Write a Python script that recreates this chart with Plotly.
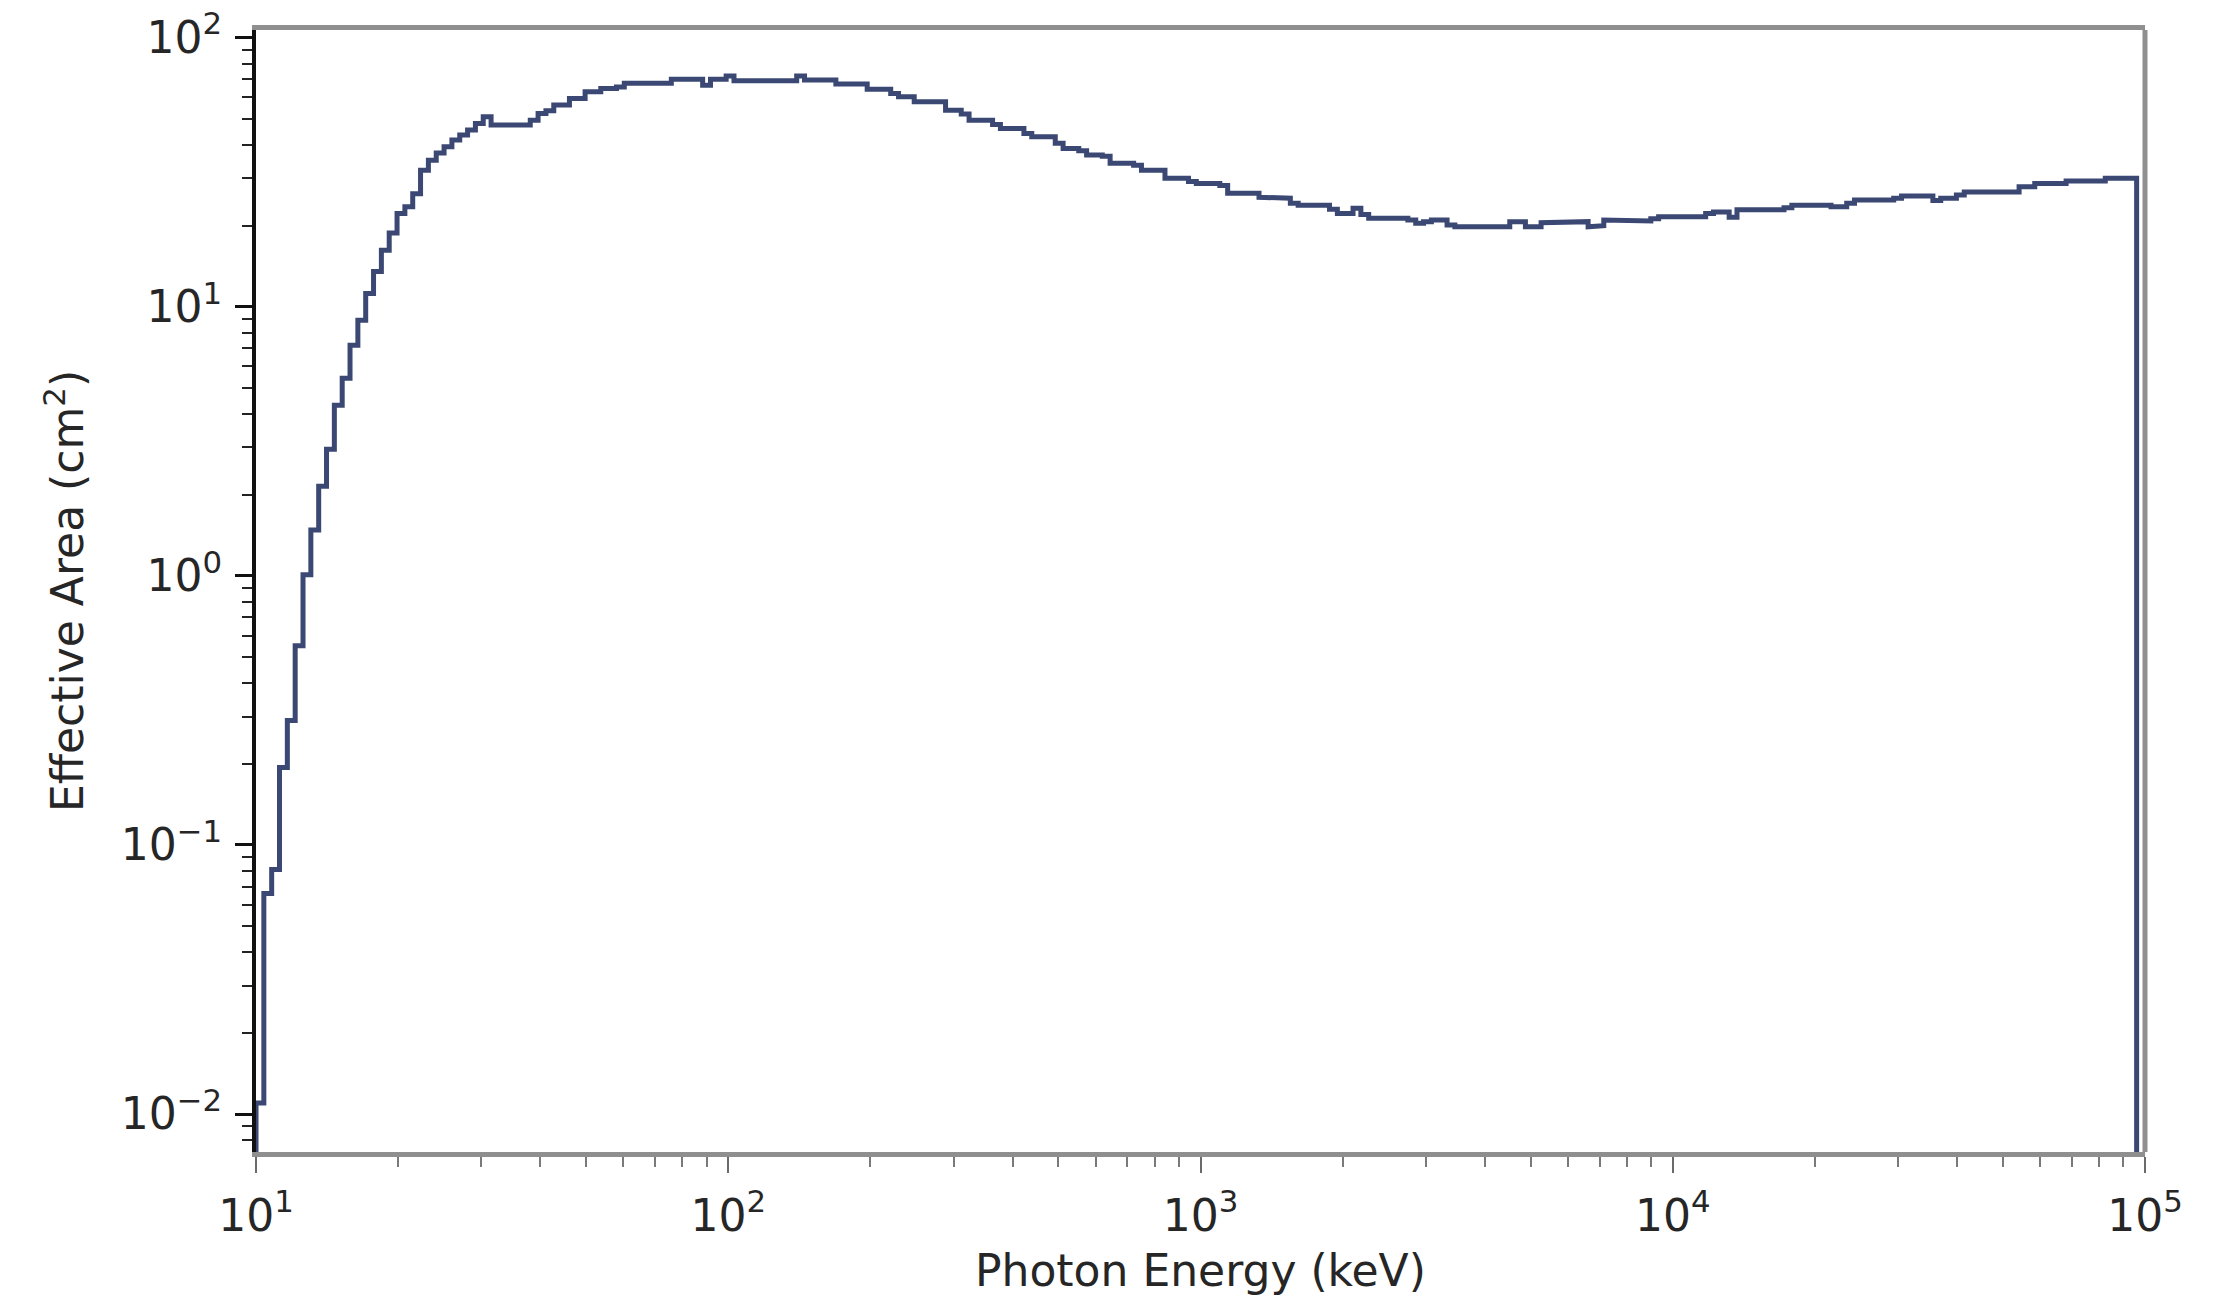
import numpy as np
import plotly.graph_objects as go

# Histogram bin range (keV) and number of log-spaced bins
E_MIN = 10.0
E_MAX = 96000.0
N_BINS = 240

# Effective area per bin (cm^2)
area = [
    0.011, 0.066, 0.081, 0.194, 0.29, 0.55, 1.01, 1.48, 2.15, 2.95,
    4.3, 5.42, 7.19, 8.9, 11.2, 13.5, 16.2, 18.8, 22.2, 23.5,
    26.3, 32.1, 35.0, 37.2, 39.3, 41.6, 43.4, 45.3, 47.9, 50.8,
    47.3, 47.3, 47.3, 47.3, 47.3, 49.3, 52.2, 53.5, 56.1, 56.1,
    59.4, 59.4, 62.9, 62.9, 64.7, 64.7, 65.5, 67.6, 67.6, 67.6,
    67.6, 67.6, 67.6, 70.0, 70.0, 70.0, 70.0, 66.5, 70.0, 70.0,
    72.0, 69.1, 69.1, 69.1, 69.1, 69.1, 69.1, 69.1, 69.1, 71.9,
    69.5, 69.5, 69.5, 69.5, 67.2, 67.2, 67.2, 67.2, 64.2, 64.2,
    64.2, 62.0, 60.3, 60.3, 57.7, 57.7, 57.7, 57.7, 53.7, 53.7,
    52.0, 49.3, 49.3, 49.3, 47.5, 45.9, 45.9, 45.9, 44.0, 42.8,
    42.8, 42.8, 40.5, 38.7, 38.7, 38.0, 36.6, 36.6, 36.2, 34.1,
    34.1, 34.1, 33.5, 32.1, 32.1, 32.1, 30.0, 30.0, 30.0, 29.2,
    28.7, 28.7, 28.7, 28.2, 26.4, 26.4, 26.4, 26.4, 25.5, 25.3,
    25.3, 25.3, 24.2, 23.8, 23.8, 23.8, 23.8, 23.0, 22.2, 22.2,
    23.2, 22.0, 21.3, 21.3, 21.3, 21.3, 21.3, 21.0, 20.4, 20.7,
    21.0, 21.0, 20.1, 19.8, 19.8, 20.0, 19.8, 19.8, 20.0, 19.8,
    20.7, 20.7, 19.8, 19.8, 20.5, 20.7, 20.7, 20.7, 20.7, 20.7,
    19.8, 20.0, 21.0, 20.8, 20.8, 20.8, 20.8, 20.8, 21.2, 21.6,
    21.6, 21.6, 21.6, 21.6, 21.6, 22.2, 22.5, 22.5, 21.5, 22.9,
    22.9, 22.9, 22.9, 22.9, 22.9, 23.3, 23.8, 23.8, 23.8, 23.8,
    23.8, 23.5, 23.5, 24.2, 24.9, 24.9, 24.9, 24.9, 24.9, 25.3,
    25.8, 25.8, 25.8, 25.8, 24.8, 25.3, 25.3, 26.0, 26.7, 26.7,
    26.7, 26.7, 26.7, 26.7, 26.7, 27.9, 27.9, 28.7, 28.7, 28.7,
    28.7, 29.3, 29.3, 29.3, 29.3, 29.3, 30.0, 30.0, 30.0, 30.0,
]

x_tick_vals = [1e1, 1e2, 1e3, 1e4, 1e5]
x_tick_text = ["10<sup>1</sup>", "10<sup>2</sup>", "10<sup>3</sup>",
               "10<sup>4</sup>", "10<sup>5</sup>"]
y_tick_vals = [1e-2, 1e-1, 1e0, 1e1, 1e2]
y_tick_text = ["10<sup>\u22122</sup>", "10<sup>\u22121</sup>", "10<sup>0</sup>",
               "10<sup>1</sup>", "10<sup>2</sup>"]

x_title = "Photon Energy (keV)"
y_title = "Effective Area (cm<sup>2</sup>)"

LINE_COLOR = "#3b4874"
FLOOR = 1e-5  # below visible range: vertical drops of step histogram

edges = np.logspace(np.log10(E_MIN), np.log10(E_MAX), N_BINS + 1)
xs = [edges[0]]
ys = [FLOOR]
for i, v in enumerate(area):
    xs += [edges[i], edges[i + 1]]
    ys += [v, v]
xs.append(edges[-1])
ys.append(FLOOR)

fig = go.Figure()
fig.add_trace(go.Scatter(
    x=xs, y=ys, mode="lines",
    line=dict(color=LINE_COLOR, width=5),
    hoverinfo="skip", showlegend=False,
))

FONT = "DejaVu Sans"
TXT = "#262626"

fig.update_layout(
    width=2218, height=1300,
    margin=dict(l=256, r=73, t=30, b=148, autoexpand=False),
    paper_bgcolor="white", plot_bgcolor="white",
    font=dict(family=FONT, size=44, color=TXT),
    showlegend=False,
)

fig.update_xaxes(
    type="log", range=[1, 5],
    tickvals=x_tick_vals, ticktext=x_tick_text,
    showgrid=False, zeroline=False,
    showline=True, linecolor="#8f8f8f", linewidth=5, mirror=True,
    ticks="outside", ticklen=16, tickwidth=2, tickcolor="#6a6a6a",
    minor=dict(ticks="outside", ticklen=10, tickwidth=2, tickcolor="#7a7a7a",
               dtick="D1", showgrid=False),
    tickfont=dict(family=FONT, size=44, color=TXT),
    ticklabelstandoff=5, ticklabeloverflow="allow",
)

fig.update_yaxes(
    type="log", range=[-2.141, 2.028],
    tickvals=y_tick_vals, ticktext=y_tick_text,
    showgrid=False, zeroline=False,
    showline=True, linecolor="#111111", linewidth=4, mirror=False,
    ticks="outside", ticklen=17, tickwidth=3, tickcolor="#111111",
    minor=dict(ticks="outside", ticklen=10, tickwidth=2, tickcolor="#222222",
               dtick="D1", showgrid=False),
    tickfont=dict(family=FONT, size=44, color=TXT),
    ticklabelstandoff=4, ticklabeloverflow="allow",
    title=dict(text=y_title, font=dict(family=FONT, size=44, color=TXT), standoff=24),
)

# x-axis title as a paper-anchored text so it can sit low like the reference
fig.add_annotation(
    text=x_title, xref="paper", yref="paper", x=0.5, y=0,
    xanchor="center", yanchor="middle", yshift=-118, showarrow=False,
    font=dict(family=FONT, size=44, color=TXT),
)

# right spine (gray, like the top one)
fig.add_shape(type="line", xref="paper", yref="paper", x0=1, x1=1, y0=0, y1=1,
              line=dict(color="#8f8f8f", width=5), layer="above")

# remove the default 8px page margin so the figure fills the window exactly
fig.write_html("out.html",
               config=dict(displayModeBar=False),
               post_script="document.body.style.margin='0px';"
                           "document.body.style.overflow='hidden';")
